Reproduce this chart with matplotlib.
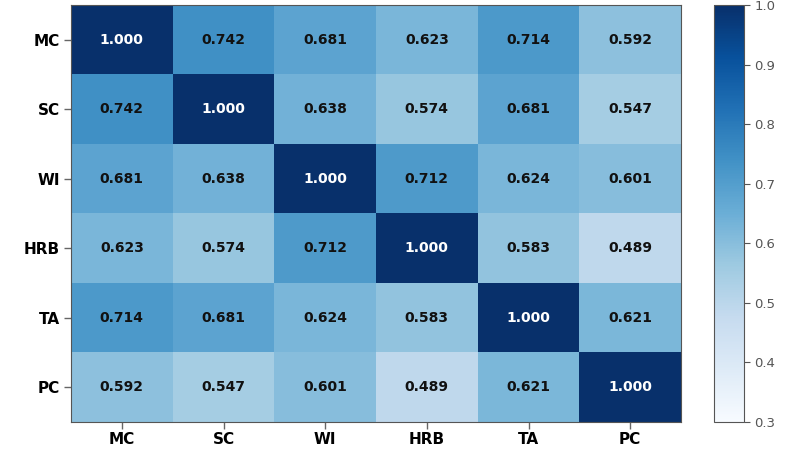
import numpy as np
import matplotlib
matplotlib.use("Agg")
import matplotlib.pyplot as plt

labels = ["MC", "SC", "WI", "HRB", "TA", "PC"]
corr = [
    [1.000, 0.742, 0.681, 0.623, 0.714, 0.592],
    [0.742, 1.000, 0.638, 0.574, 0.681, 0.547],
    [0.681, 0.638, 1.000, 0.712, 0.624, 0.601],
    [0.623, 0.574, 0.712, 1.000, 0.583, 0.489],
    [0.714, 0.681, 0.624, 0.583, 1.000, 0.621],
    [0.592, 0.547, 0.601, 0.489, 0.621, 1.000],
]
cbar_ticks = [0.3, 0.4, 0.5, 0.6, 0.7, 0.8, 0.9, 1.0]
vmin, vmax = 0.3, 1.0

W, H = 787, 450
fig = plt.figure(figsize=(W / 100, H / 100), dpi=100)
ax = fig.add_axes([71 / W, 1 - 422 / H, (681 - 71) / W, (422 - 5) / H])
cax = fig.add_axes([714 / W, 1 - 422 / H, (744 - 714) / W, (422 - 5) / H])

data = np.array(corr)
im = ax.imshow(data, cmap="Blues", vmin=vmin, vmax=vmax, aspect="auto")

for i in range(len(labels)):
    for j in range(len(labels)):
        v = data[i, j]
        ax.text(j, i, f"{v:.3f}", ha="center", va="center",
                fontsize=10, fontweight="bold",
                color="white" if v > 0.85 else "#111111")

ax.set_xticks(range(len(labels)))
ax.set_yticks(range(len(labels)))
ax.set_xticklabels(labels, fontsize=11, fontweight="bold")
ax.set_yticklabels(labels, fontsize=11, fontweight="bold")
ax.tick_params(axis="x", length=5, color="#666666", width=1, pad=2)
ax.tick_params(axis="y", length=5, color="#666666", width=1, pad=3)
for s in ax.spines.values():
    s.set_color("#555555")

cb = fig.colorbar(im, cax=cax)
cb.set_ticks(cbar_ticks)
cb.ax.tick_params(labelsize=9.5, colors="#555555", length=4)
cb.outline.set_edgecolor("#555555")

fig.savefig("out.png", dpi=100)
